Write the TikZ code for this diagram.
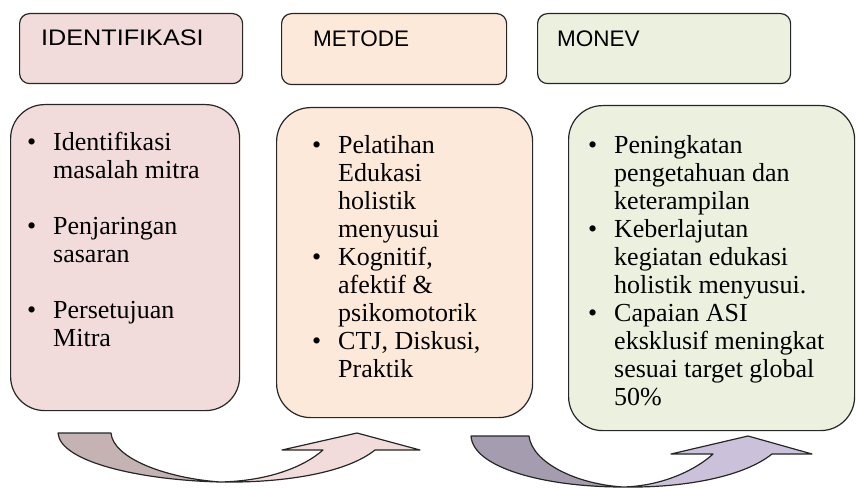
\documentclass[tikz,border=0pt]{standalone}
\usepackage{fontspec}
\setmainfont{Liberation Serif}
\newfontfamily\headfont{Liberation Sans}
\usepackage{xcolor}
\usepackage{graphicx}
\usetikzlibrary{positioning}
\usetikzlibrary{calc}

\definecolor{pinkIsi}{HTML}{F2DCDB}
\definecolor{oranyeIsi}{HTML}{FDE9D9}
\definecolor{hijauIsi}{HTML}{EBF1DE}
\definecolor{panahSatuGelap}{HTML}{C4B3B2}
\definecolor{panahDuaGelap}{HTML}{A69CB0}
\definecolor{panahDuaTerang}{HTML}{CCC1DA}

\newcommand{\blt}{\makebox[26pt][l]{\textbullet}}
\newcommand{\ind}{\hspace*{26pt}}

\tikzset{
	kotakjudul/.style={draw=black!85, line width=1.2pt, rounded corners=10pt, anchor=north west, inner sep=0pt},
	kotakisi/.style={draw=black!85, line width=1.2pt, rounded corners=34pt, anchor=north west, inner sep=0pt},
	teksjudul/.style={anchor=base west, inner sep=0pt, font=\headfont\fontsize{22.5}{26}\selectfont},
	teksisi/.style={anchor=north west, inner sep=0pt, align=left, font=\fontsize{26}{28}\selectfont},
	panah/.style={draw=black!85, line width=1.2pt, line join=round},
}

\begin{document}
\begin{tikzpicture}[x=1pt, y=-1pt]
					\useasboundingbox (0,0) rectangle (856,489);
					
					% header boxes
					\node[kotakjudul, fill=pinkIsi, minimum width=223pt, minimum height=70pt] (hIdent) at (19,13) {};
					\node[kotakjudul, fill=oranyeIsi, minimum width=225pt, minimum height=71pt] (hMetode) at (281,13) {};
					\node[kotakjudul, fill=hijauIsi, minimum width=253pt, minimum height=70pt] (hMonev) at (537,13) {};
					\node[teksjudul] (tIdent) at (41,46) {\scalebox{1.12}[1]{IDENTIFIKASI}};
					\node[teksjudul] (tMetode) at (313,47) {METODE};
					\node[teksjudul] (tMonev) at (557,47) {MONEV};
					
					% content boxes
					\node[kotakisi, fill=pinkIsi, minimum width=229pt, minimum height=306pt] (bIdent) at (10,104) {};
					\node[kotakisi, fill=oranyeIsi, minimum width=256pt, minimum height=310pt] (bMetode) at (276,107) {};
					\node[kotakisi, fill=hijauIsi, minimum width=286pt, minimum height=325pt] (bMonev) at (568,105) {};
					
					\node[teksisi] (iIdent) at (27,132) {\blt Identifikasi\\ \ind masalah mitra\\[28pt]
						\blt Penjaringan\\ \ind sasaran\\[28pt]
						\blt Persetujuan\\ \ind Mitra};
					\node[teksisi] (iMetode) at (312,135) {\blt Pelatihan\\ \ind Edukasi\\ \ind holistik\\ \ind menyusui\\
						\blt Kognitif,\\ \ind afektif \&\\ \ind psikomotorik\\
						\blt CTJ, Diskusi,\\ \ind Praktik};
					\node[teksisi] (iMonev) at (588,135) {\blt Peningkatan\\ \ind pengetahuan dan\\ \ind keterampilan\\
						\blt Keberlajutan\\ \ind kegiatan edukasi\\ \ind holistik menyusui.\\
						\blt Capaian ASI\\ \ind eksklusif meningkat\\ \ind sesuai target global\\ \ind 50\%};
					
					% curved arrow one
					\fill[panahSatuGelap] (58,433) -- (111,433) .. controls (113,458) and (165,478) .. (220,482)
						.. controls (140,480) and (60,462) .. (58,433) -- cycle;
					\fill[pinkIsi] (220,482) .. controls (270,481) and (305,466) .. (323,450) -- (282,450) -- (357,433)
						-- (420,450) -- (375,450) .. controls (345,474) and (280,483) .. (220,482) -- cycle;
					\draw[panah] (58,433) -- (111,433) .. controls (113,458) and (165,478) .. (220,482)
						.. controls (270,481) and (305,466) .. (323,450) -- (282,450) -- (357,433) -- (420,450) -- (375,450)
						.. controls (345,474) and (280,483) .. (220,482) .. controls (140,480) and (60,462) .. (58,433) -- cycle;
					
					% curved arrow two
					\fill[panahDuaGelap] (471,436) -- (529,436) .. controls (532,462) and (575,484) .. (623,487)
						.. controls (545,487) and (473,468) .. (471,436) -- cycle;
					\fill[panahDuaTerang] (623,487) .. controls (665,486) and (698,468) .. (713,454) -- (671,454) -- (748,436)
						-- (812,454) -- (772,454) .. controls (742,478) and (680,488) .. (623,487) -- cycle;
					\draw[panah] (471,436) -- (529,436) .. controls (532,462) and (575,484) .. (623,487)
						.. controls (665,486) and (698,468) .. (713,454) -- (671,454) -- (748,436) -- (812,454) -- (772,454)
						.. controls (742,478) and (680,488) .. (623,487) .. controls (545,487) and (473,468) .. (471,436) -- cycle;
				\end{tikzpicture}
\end{document}
